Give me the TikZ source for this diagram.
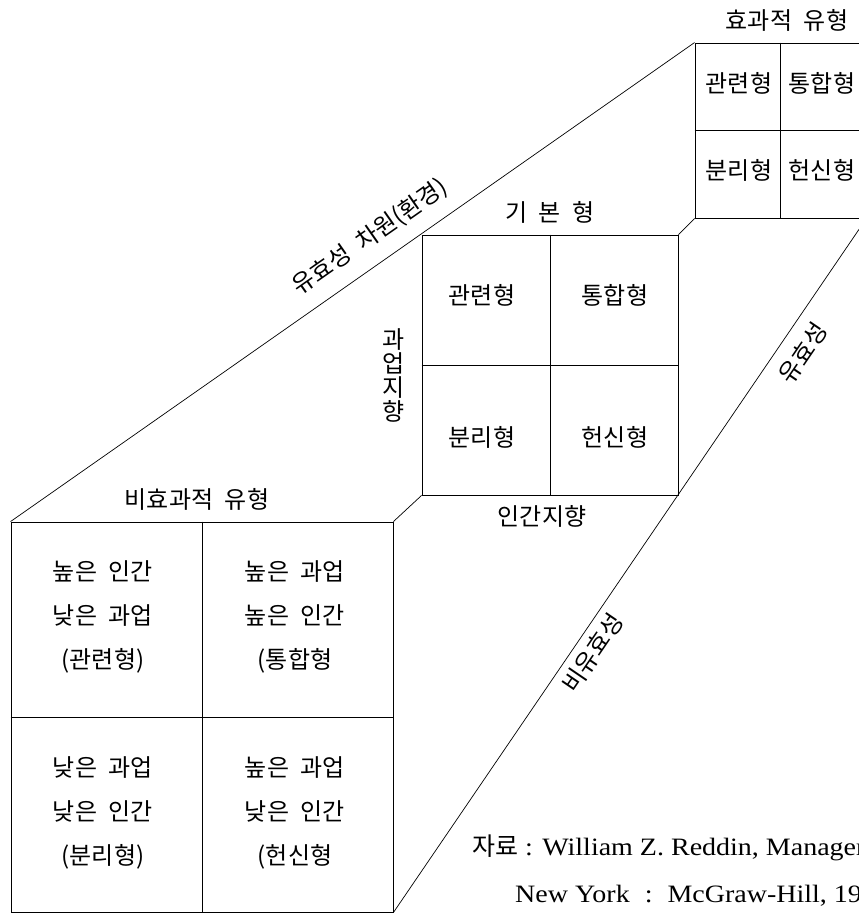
\documentclass[tikz,border=0pt]{standalone}
\usepackage{fontspec}
\setmainfont{Liberation Serif}
\newfontfamily\kr[WordSpace=2.2]{Noto Sans CJK KR}
\newfontfamily\citefont[FakeStretch=1.12]{Liberation Serif}
\usetikzlibrary{positioning}

\begin{document}
\begin{tikzpicture}[x=1pt, y=1pt,
    box/.style={draw, line width=0.9pt, inner sep=0pt},
    edge/.style={line width=0.7pt},
    lbl/.style={font=\fontsize{24}{44}\selectfont\kr, inner sep=0pt, align=center},
    cite/.style={font=\fontsize{25}{30}\selectfont\citefont, inner sep=0pt, anchor=west}]
  \useasboundingbox (0,0) rectangle (859,-913);
  \clip (0,0) rectangle (859,-913);

  \node[box, minimum width=382pt, minimum height=390pt] (noneff) at (202,-717) {};
  \node[box, minimum width=256pt, minimum height=260pt] (basic) at (550,-365) {};
  \node[box, minimum width=171pt, minimum height=175pt] (eff) at (780.5,-130.5) {};
  \foreach \b in {noneff, basic, eff} {
    \draw[line width=0.9pt] (\b.north) -- (\b.south);
    \draw[line width=0.9pt] (\b.west) -- (\b.east);
  }

  \draw[edge] (eff.north west) --
    node[lbl, sloped, above=14pt, pos=0.452] {유효성 차원(환경)} (noneff.north west);
  \draw[edge] (eff.south east) --
    node[lbl, sloped, below=12pt, pos=0.175] {유효성}
    node[lbl, sloped, below=7pt, pos=0.611] {비유효성} (noneff.south east);
  \draw[edge] (eff.south west) -- (basic.north east);
  \draw[edge] (basic.south west) -- (noneff.north east);

  \node[lbl, above=11pt of eff.north, xshift=6.5pt] (effT) {효과적 유형};
  \node[lbl] (e1) at (739,-83) {관련형};
  \node[lbl] (e2) at (822,-83) {통합형};
  \node[lbl] (e3) at (739,-170) {분리형};
  \node[lbl] (e4) at (822,-170) {헌신형};

  \node[lbl, above=11pt of basic.north] (basicT) {기 본 형};
  \node[lbl] (b1) at (482,-295) {관련형};
  \node[lbl] (b2) at (615,-295) {통합형};
  \node[lbl] (b3) at (482,-437) {분리형};
  \node[lbl] (b4) at (615,-437) {헌신형};
  \node[lbl, font=\fontsize{24}{24}\selectfont\kr] (task) at (394,-375) {과\\업\\지\\향};
  \node[lbl, below=10pt of basic.south, xshift=-8pt] (human) {인간지향};

  \node[lbl, above=11pt of noneff.north, xshift=-5pt] (noneffT) {비효과적 유형};
  \node[lbl] (n1) at (103,-617) {높은 인간\\낮은 과업\\(관련형)};
  \node[lbl] (n2) at (295,-617) {높은 과업\\높은 인간\\(통합형};
  \node[lbl] (n3) at (103,-813) {낮은 과업\\낮은 인간\\(분리형)};
  \node[lbl] (n4) at (295,-813) {높은 과업\\낮은 인간\\(헌신형};

  \node[cite] (src1) at (472,-848) {{\kr 자료} : William Z. Reddin, Managerial};
  \node[cite] (src2) at (515,-896)
    {New York\hspace{0.6em}:\hspace{0.6em}McGraw-Hill, 1970.};
\end{tikzpicture}
\end{document}
